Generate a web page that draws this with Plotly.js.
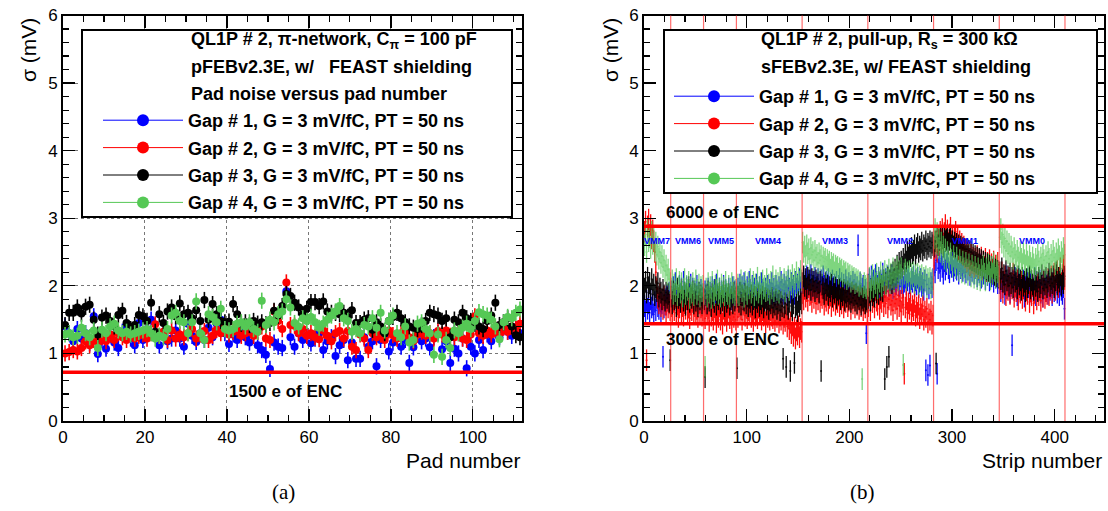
<!DOCTYPE html>
<html><head><meta charset="utf-8">
<script src="https://cdn.plot.ly/plotly-3.0.1.min.js"></script>
<style>html,body{margin:0;padding:0;background:#fff}#chart{width:1108px;height:511px}</style>
</head><body><div id="chart"></div>
<script>
// ---------- Panel (a): pad noise, 112 pads ----------
const padGap1 = [1.40,1.30,1.18,1.36,1.22,1.30,1.15,1.55,0.99,1.20,
1.07,1.28,1.16,1.08,1.32,1.38,1.22,1.12,1.45,1.20,
1.36,1.50,1.28,1.12,1.30,1.18,1.22,1.34,1.22,1.10,
1.44,1.26,1.17,1.30,1.20,1.38,1.24,1.44,1.50,1.30,
1.14,1.28,1.20,1.32,1.24,1.16,1.28,1.12,1.05,0.98,
0.77,1.16,1.10,1.08,1.92,1.24,1.10,1.30,1.20,1.26,
1.15,1.22,1.30,1.05,1.18,1.24,0.96,1.12,1.20,0.90,
1.16,0.92,0.92,1.24,1.10,1.18,0.81,1.20,1.28,1.03,
1.16,1.24,1.10,1.20,0.86,1.09,1.28,1.18,1.22,1.09,
1.24,1.30,1.06,1.18,0.86,1.07,1.00,1.22,0.78,1.10,
1.00,1.20,1.05,1.28,1.18,1.34,1.24,1.40,1.32,1.26,1.36,1.30];
const padGap2 = [1.00,1.02,1.05,1.03,1.08,1.18,1.12,1.20,1.16,1.24,
1.18,1.28,1.20,1.30,1.24,1.20,1.32,1.22,1.26,1.28,
1.22,1.30,1.43,1.26,1.32,1.20,1.34,1.22,1.28,1.24,
1.30,1.36,1.22,1.28,1.33,1.20,1.26,1.35,1.30,1.40,
1.28,1.32,1.34,1.26,1.30,1.38,1.26,1.32,1.40,1.22,
1.20,1.62,1.48,1.36,2.05,1.42,1.41,1.30,1.36,1.26,
1.30,1.24,1.21,1.34,1.26,1.18,1.30,1.33,1.22,1.33,
1.10,1.05,1.28,1.22,1.05,1.30,1.24,1.28,1.20,1.34,
1.27,1.22,1.30,1.33,1.24,1.18,1.28,1.32,1.26,1.30,
1.22,1.33,1.28,1.34,1.26,1.24,1.30,1.22,1.20,1.28,
1.55,1.30,1.26,1.34,1.28,1.36,1.30,1.38,1.32,1.40,1.36,1.44];
const padGap3 = [1.42,1.60,1.60,1.68,1.59,1.69,1.72,1.50,1.28,1.53,
1.56,1.48,1.40,1.57,1.63,1.45,1.36,1.42,1.57,1.55,
1.48,1.75,1.32,1.58,1.45,1.62,1.68,1.55,1.74,1.58,
1.60,1.52,1.64,1.48,1.79,1.50,1.73,1.58,1.48,1.46,
1.47,1.73,1.58,1.44,1.46,1.42,1.48,1.44,1.46,1.43,
1.45,1.63,1.56,1.70,1.88,1.85,1.75,1.68,1.58,1.66,
1.76,1.76,1.70,1.77,1.62,1.60,1.60,1.58,1.60,1.54,
1.64,1.45,1.45,1.50,1.52,1.35,1.46,1.40,1.30,1.48,
1.54,1.60,1.52,1.46,1.40,1.38,1.36,1.42,1.48,1.60,
1.58,1.56,1.48,1.52,1.24,1.50,1.46,1.60,1.52,1.48,
1.44,1.40,1.36,1.48,1.56,1.75,1.42,1.46,1.52,1.40,1.27,1.24];
const padGap4 = [1.28,1.30,1.24,1.26,1.38,1.30,1.24,1.34,1.08,1.35,
1.30,1.40,1.44,1.34,1.30,1.32,1.28,1.30,1.32,1.34,
1.36,1.30,1.22,1.26,1.24,1.36,1.56,1.60,1.48,1.46,
1.30,1.46,1.77,1.30,1.20,1.58,1.54,1.46,1.66,1.36,
1.34,1.36,1.44,1.46,1.40,1.46,1.36,1.32,1.78,1.42,
1.50,1.46,1.58,1.62,1.80,1.68,1.45,1.40,1.52,1.48,
1.54,1.46,1.38,1.44,1.50,1.56,1.62,1.70,1.52,1.48,
1.32,1.36,1.30,1.42,1.40,1.52,1.38,1.60,1.34,1.48,
1.56,1.30,1.24,1.40,1.16,1.20,1.44,1.46,1.36,1.30,
0.98,1.28,0.95,1.20,1.08,1.34,1.30,1.38,1.44,1.36,
1.48,1.61,1.58,1.56,1.50,1.40,1.21,1.46,1.54,1.52,1.60,1.65];
const padErr = 0.12;

// ---------- Panel (b): strip noise, strips 0..409 ----------
const stripGap1 = [1.70,1.62,1.78,1.66,1.74,1.60,1.80,1.68,1.72,1.58,1.76,1.64,1.82,1.70,1.66,1.78,1.62,1.74,0.95,1.68,1.80,1.72,1.86,1.78,1.90,1.84,
1.92,1.80,1.98,1.86,2.04,1.84,1.94,1.78,2.00,1.88,1.96,1.82,2.06,1.90,1.86,1.98,1.80,1.94,1.88,2.02,1.84,1.96,1.78,1.92,1.86,2.00,1.82,1.90,1.76,1.94,1.84,1.88,
1.80,1.92,1.74,1.88,1.96,1.82,1.90,1.78,1.98,1.86,1.94,1.80,2.02,1.88,1.84,1.96,1.78,1.92,1.86,2.00,1.82,1.94,1.88,1.76,1.96,1.84,1.90,1.80,1.98,1.86,1.92,1.84,
1.88,1.96,1.84,2.02,1.90,1.98,1.86,2.04,1.92,1.82,1.98,1.88,2.06,1.94,1.86,2.00,
1.90,1.96,1.84,2.02,1.92,1.88,1.98,1.86,2.04,1.94,1.90,1.82,1.96,1.88,2.00,1.86,
1.94,1.90,2.04,1.88,1.96,1.84,2.00,1.92,1.86,1.98,1.90,2.06,1.94,1.88,2.02,1.92,
1.98,1.86,2.08,1.96,1.90,2.04,1.94,2.00,1.88,2.06,1.96,2.02,1.92,2.10,1.98,2.04,
2.00,2.10,1.96,2.06,2.14,1.98,2.08,2.02,2.16,1.94,2.06,2.00,2.12,1.96,2.04,2.10,
1.92,2.02,2.08,1.98,2.14,2.00,1.94,2.06,2.02,2.10,1.96,2.04,1.90,2.08,1.98,2.02,
1.94,2.06,1.92,2.00,2.10,1.96,2.04,1.88,2.02,1.94,2.08,1.98,1.90,2.04,1.96,2.00,
1.86,2.06,1.94,2.02,1.90,1.98,2.60,1.92,2.04,1.88,1.96,2.00,1.84,1.94,1.30,1.90,
2.02,2.10,1.96,2.14,2.04,2.08,1.98,2.16,2.06,2.00,2.12,1.94,2.08,2.02,2.18,2.04,
1.98,2.10,2.06,2.14,2.00,2.08,2.04,2.16,1.96,2.10,2.06,2.02,2.12,2.08,2.00,2.14,
2.04,2.10,1.98,2.06,2.12,2.02,2.08,2.16,2.04,1.96,2.10,2.06,2.14,2.00,2.08,2.02,
2.12,1.98,2.06,2.10,2.00,2.04,1.94,2.08,0.75,2.02,0.68,1.96,0.82,2.04,1.98,2.10,
2.30,2.20,2.38,0.70,2.26,2.34,2.22,2.40,2.28,2.18,2.36,2.24,2.32,2.42,2.26,2.20,
2.34,2.28,2.38,2.22,2.30,2.40,2.24,2.32,2.18,2.36,2.26,2.30,2.22,2.34,2.28,2.20,
2.36,2.24,2.32,2.16,2.28,2.22,2.34,2.18,2.26,2.30,2.14,2.24,2.20,2.32,2.12,2.26,
2.18,2.28,2.10,2.22,2.16,2.26,2.08,2.20,2.14,2.24,2.06,2.18,2.12,2.22,2.04,2.16,
2.04,1.92,2.10,1.98,2.06,1.88,2.14,1.96,2.02,2.08,1.90,2.00,1.12,2.06,1.94,2.12,
1.98,1.86,2.04,2.10,1.92,2.00,1.96,2.08,1.84,2.02,1.94,2.10,1.98,1.88,2.06,1.92,
2.00,1.96,2.12,1.86,2.04,1.94,1.98,2.08,1.90,2.02,1.84,1.96,2.06,1.92,2.00,1.88,
2.10,1.94,1.98,1.86,2.04,1.92,1.96,2.08,1.90,2.00,1.86,2.02,1.94,1.88,1.98,1.66];
const stripGap2 = [2.80,2.95,0.90,2.88,2.98,2.75,2.90,2.70,2.82,2.66,2.50,2.20,1.96,1.82,1.74,1.88,1.70,1.80,1.66,1.84,1.72,1.62,1.78,1.68,1.74,1.64,
1.70,1.58,1.76,1.64,1.82,1.60,1.72,1.54,1.68,1.78,1.62,1.70,1.56,1.74,1.66,1.80,1.60,1.68,1.52,1.72,1.64,1.76,1.58,1.70,1.62,1.66,1.54,1.74,1.60,1.68,1.56,1.64,
1.62,1.52,1.70,1.58,1.66,1.48,1.72,1.56,1.64,1.50,1.68,1.58,1.46,1.62,1.54,1.70,1.50,1.60,1.44,1.66,1.56,1.62,1.48,1.58,1.68,1.52,1.60,1.46,1.64,1.54,1.58,1.50,
1.64,1.54,1.70,1.58,1.66,1.50,1.72,1.60,1.56,1.68,1.52,1.64,1.58,1.70,1.54,1.62,
1.48,1.66,1.56,1.60,1.52,1.68,1.58,1.62,1.50,1.64,1.56,1.60,1.46,1.62,1.54,1.58,
1.50,1.64,1.56,1.52,1.60,1.48,1.58,1.54,1.62,1.46,1.56,1.50,1.60,1.44,1.54,1.48,
1.58,1.40,1.52,1.36,1.46,1.30,1.42,1.26,1.38,1.22,1.34,1.28,1.40,1.24,1.36,1.32,
1.90,1.80,1.96,1.84,1.92,1.78,1.98,1.86,1.88,1.76,1.94,1.82,1.90,1.74,1.88,1.80,
1.92,1.76,1.86,1.82,1.90,1.72,1.84,1.78,1.88,1.74,1.82,1.86,1.70,1.84,1.78,1.88,
1.72,1.80,1.76,1.86,1.70,1.82,1.74,1.84,1.68,1.80,1.76,1.84,1.70,1.78,1.82,1.66,
1.80,1.74,1.84,1.68,1.78,1.72,1.82,1.66,1.76,1.70,1.80,1.64,1.74,1.68,1.78,1.62,
1.70,1.86,1.64,1.92,1.76,1.84,1.68,1.94,1.78,1.72,1.88,1.66,1.82,1.76,1.90,1.70,
1.84,1.74,1.92,1.68,1.80,1.86,1.72,1.78,1.64,1.84,1.74,1.80,1.66,1.86,1.70,1.78,
1.62,1.82,1.72,0.70,1.68,1.80,1.60,1.74,1.66,1.78,1.58,1.70,1.64,1.76,1.56,1.68,
1.60,1.72,1.52,1.66,1.58,1.70,1.50,1.62,1.54,1.66,1.46,1.58,1.50,1.62,1.44,1.56,
2.40,2.56,2.66,2.50,2.74,2.60,2.80,2.68,2.84,2.62,2.78,2.90,2.70,2.82,2.64,2.76,
2.86,2.66,2.74,2.58,2.70,2.80,2.62,2.72,2.54,2.66,2.50,2.62,2.46,2.58,2.42,2.54,
2.36,2.50,2.40,2.30,2.46,2.34,2.42,2.28,2.40,2.32,2.44,2.26,2.38,2.30,2.42,2.24,
2.36,2.28,2.40,2.22,2.34,2.26,2.38,2.20,2.32,2.24,2.36,2.18,2.30,2.22,2.34,2.16,
2.10,1.96,2.20,1.90,2.06,2.14,1.86,2.02,1.94,2.12,1.88,2.04,1.96,2.18,1.84,2.00,
1.92,2.08,1.80,1.98,1.90,2.06,1.82,1.96,2.02,1.78,1.94,1.88,2.04,1.76,1.92,1.86,
2.00,1.74,1.90,1.96,1.80,2.02,1.86,1.94,1.78,1.98,1.84,2.06,1.82,1.92,1.88,2.10,
1.86,1.96,2.14,1.90,2.02,2.18,1.94,2.08,2.22,1.98,2.12,2.26,2.04,2.16,2.30,2.10];
const stripGap3 = [1.96,2.06,1.90,2.12,1.98,2.04,1.88,2.10,1.94,2.02,1.86,1.98,1.92,2.04,1.84,1.96,1.90,1.80,1.94,1.86,1.78,1.90,1.82,1.88,1.76,0.90,
1.84,1.74,1.92,1.80,1.88,1.70,1.96,1.82,1.86,1.76,1.94,1.84,1.78,1.90,1.72,1.88,1.80,1.98,1.76,1.86,1.82,1.92,1.74,1.88,1.78,1.84,1.70,1.90,1.80,1.86,1.74,1.82,
1.80,0.65,1.86,1.74,1.92,1.78,1.84,1.70,1.88,1.82,1.76,1.94,1.72,1.86,1.80,1.90,1.74,1.84,1.78,1.92,1.70,1.86,1.76,1.82,1.88,1.72,1.80,1.84,1.74,1.90,1.78,1.82,
0.78,1.84,1.76,1.90,1.72,1.86,1.80,1.78,1.88,1.74,1.84,1.70,1.82,1.76,1.86,1.72,
1.80,1.84,1.68,1.82,1.76,1.86,1.70,1.80,1.74,1.84,1.68,1.78,1.82,1.72,1.80,1.66,
1.78,1.74,1.82,1.68,1.76,1.72,1.80,1.66,1.74,1.78,1.64,1.76,1.70,0.92,1.68,1.74,
0.80,1.72,1.66,1.76,0.74,1.70,1.64,1.74,0.86,1.68,1.72,1.62,1.76,1.70,1.80,1.74,
2.04,2.14,2.00,2.10,1.96,2.12,2.02,2.08,1.94,2.10,2.00,2.06,1.92,2.08,1.98,2.04,
1.90,2.06,0.74,2.02,1.96,1.88,2.04,1.94,2.00,1.86,1.98,1.92,2.02,1.84,1.96,1.90,
1.98,1.82,1.94,1.88,1.96,1.80,1.92,1.86,1.94,1.78,1.90,1.84,1.92,1.80,1.88,1.76,
1.90,1.82,1.86,1.78,1.88,1.74,1.84,1.80,1.86,1.72,1.82,1.78,1.84,1.74,1.80,1.76,
1.82,1.90,1.78,1.96,1.86,1.92,1.84,2.00,1.90,1.96,1.88,2.04,1.94,2.00,1.92,2.08,
0.62,2.04,0.80,2.12,0.95,2.08,2.16,2.04,2.20,2.10,2.24,2.14,2.30,2.20,2.34,2.26,
2.36,2.28,2.40,2.32,2.46,2.36,2.50,2.42,2.52,2.44,2.56,2.48,2.52,2.60,2.46,2.56,
2.62,2.50,2.58,2.54,2.64,2.52,2.60,2.56,2.66,2.54,2.62,2.58,2.66,2.56,2.64,2.60,
2.58,2.66,0.85,2.72,2.60,2.68,2.74,2.64,2.70,2.58,2.72,2.66,2.68,2.74,2.62,2.68,
2.72,2.60,2.66,2.58,2.64,2.56,2.62,2.52,2.60,2.50,2.58,2.48,2.56,2.46,2.54,2.44,
2.54,2.44,2.52,2.40,2.50,2.38,2.46,2.36,2.44,2.34,2.42,2.32,2.40,2.30,2.38,2.28,
2.36,2.26,2.34,2.24,2.32,2.22,2.30,2.20,2.28,2.18,2.26,2.16,2.24,2.14,2.22,2.12,
2.20,2.10,2.26,2.06,2.16,2.02,2.22,2.08,2.14,2.00,2.18,2.04,2.12,1.98,2.16,2.06,
2.10,1.96,2.14,2.02,2.08,1.94,2.12,2.00,2.06,1.92,2.10,1.98,2.04,2.14,1.96,2.08,
2.02,1.94,2.10,2.00,2.06,1.92,2.12,1.98,2.04,2.16,1.96,2.08,2.02,2.12,1.98,2.06,
2.18,2.00,2.10,2.04,2.14,1.98,2.08,2.20,2.02,2.12,2.06,2.16,2.00,2.10,2.04,2.14];
const stripGap4 = [2.60,2.76,2.50,2.82,2.66,2.72,2.56,2.80,2.62,2.70,2.52,2.64,2.46,2.58,2.40,2.50,2.34,2.44,2.28,2.38,2.22,2.30,2.16,2.24,2.10,2.04,
1.96,2.08,1.88,2.02,1.92,2.10,1.86,1.98,2.06,1.90,2.04,1.84,1.96,2.10,1.88,2.00,1.94,2.06,1.82,1.98,1.90,2.04,1.86,1.96,2.08,1.88,1.94,2.02,1.84,1.98,1.92,2.00,
1.88,0.80,1.96,1.84,2.04,1.90,1.98,1.82,2.06,1.92,1.86,2.00,1.94,2.08,1.88,1.96,1.84,2.02,1.90,1.98,1.86,2.06,1.92,1.88,2.00,1.84,1.96,2.04,1.90,1.98,1.86,1.94,
1.90,2.02,1.86,1.98,2.08,1.92,2.00,1.84,2.06,1.94,1.88,2.04,1.96,2.10,1.90,1.98,
2.06,1.86,2.02,1.94,2.12,1.90,1.98,2.04,1.88,2.08,1.96,2.00,1.92,2.10,1.94,2.02,
1.88,2.06,1.96,2.14,1.92,2.00,2.08,1.94,2.04,1.90,2.12,1.98,2.02,1.96,2.10,1.92,
2.06,2.00,2.14,1.94,2.08,2.02,2.16,1.98,2.10,2.04,2.20,2.00,2.12,2.06,2.22,2.08,
2.64,2.50,2.58,2.44,2.60,2.48,2.54,2.40,2.56,2.46,2.50,2.38,2.52,2.42,2.46,2.34,
2.48,2.38,2.44,2.30,2.42,2.36,2.40,2.28,2.38,2.32,2.36,2.24,2.34,2.28,2.32,2.20,
2.30,2.26,2.28,2.18,2.26,2.22,2.24,2.14,2.22,2.18,2.20,2.10,2.18,2.14,2.16,2.06,
2.14,2.10,2.12,2.04,2.10,2.06,2.08,2.00,2.06,2.02,0.62,1.98,2.04,2.00,1.96,2.02,
2.00,2.12,1.94,2.08,2.16,1.98,2.10,2.04,2.18,1.96,2.12,2.06,2.20,2.00,2.14,2.08,
2.22,2.02,2.16,2.10,2.24,2.04,2.18,2.12,2.26,2.06,2.20,2.14,2.28,2.08,2.22,2.16,
2.26,2.10,0.83,2.18,2.24,2.08,2.20,2.14,2.22,2.06,2.18,2.12,2.20,2.04,2.16,2.10,
2.18,2.02,2.14,2.08,2.16,2.00,2.12,2.06,2.14,1.98,2.10,2.04,2.12,1.96,2.08,2.02,
2.70,2.84,2.62,2.78,2.56,2.70,2.50,2.64,2.46,2.58,2.40,2.54,2.36,2.50,2.42,2.32,
2.48,2.38,2.28,2.44,2.34,2.26,2.42,2.30,2.22,2.38,2.28,2.20,2.36,2.26,2.18,2.34,
2.24,2.16,2.32,2.22,2.14,2.30,2.20,2.12,2.28,2.18,2.10,2.26,2.16,2.08,2.24,2.14,
2.30,2.18,2.08,2.26,2.16,2.32,2.20,2.10,2.28,2.18,2.34,2.22,2.12,2.30,2.20,2.14,
2.72,2.84,2.64,2.76,2.58,2.70,2.52,2.66,2.48,2.62,2.44,2.58,2.50,2.40,2.56,2.46,
2.36,2.52,2.42,2.34,2.50,2.40,2.32,2.48,2.38,2.30,2.46,2.36,2.28,2.44,2.34,2.26,
2.42,2.32,2.24,2.40,2.30,2.46,2.36,2.26,2.42,2.32,2.48,2.38,2.28,2.44,2.34,2.50,
2.40,2.30,2.46,2.36,2.52,2.42,2.32,2.48,2.38,2.54,2.44,2.34,2.50,2.40,2.56,2.46];
const stripErr = 0.16;

const vmmBoundaries = [26, 58, 90, 154, 218, 282, 346, 410];
const vmmLabels = ['VMM7','VMM6','VMM5','VMM4','VMM3','VMM2','VMM1','VMM0'];
const vmmLabelPos = [13, 43, 75, 121, 186, 249, 313, 378];

const gapNames = ['Gap # 1, G = 3 mV/fC, PT = 50 ns','Gap # 2, G = 3 mV/fC, PT = 50 ns',
                  'Gap # 3, G = 3 mV/fC, PT = 50 ns','Gap # 4, G = 3 mV/fC, PT = 50 ns'];
const titleA = ['QL1P # 2, π-network, C<sub>π</sub> = 100 pF','pFEBv2.3E, w/   FEAST shielding','Pad noise versus pad number'];
const titleB = ['QL1P # 2, pull-up, R<sub>s</sub> = 300 kΩ','sFEBv2.3E, w/ FEAST shielding'];
const encA = {level: 0.72, label: '1500 e of ENC'};
const encB = [{level: 2.88, label: '6000 e of ENC'}, {level: 1.44, label: '3000 e of ENC'}];

// ---------- styling ----------
const colors = ['#0000ff', '#ff0000', '#000000', '#55c855'];
const FONT = 'Liberation Sans, Arial, Helvetica, sans-serif';
const W = 1108, H = 511;
const px = v => v / W, py = v => (H - v) / H;

const padSeries = [padGap1, padGap2, padGap3, padGap4];
const stripSeries = [stripGap1, stripGap2, stripGap3, stripGap4];

const traces = [];
padSeries.forEach((ys, k) => {
  traces.push({
    type: 'scatter', mode: 'markers', xaxis: 'x', yaxis: 'y', showlegend: false,
    x: ys.map((_, i) => i + 0.5), y: ys,
    marker: {color: colors[k], size: 8},
    error_y: {type: 'constant', value: padErr, color: colors[k], thickness: 1.6, width: 0},
    hoverinfo: 'skip'
  });
});
stripSeries.forEach((ys, k) => {
  traces.push({
    type: 'scatter', mode: 'markers', xaxis: 'x2', yaxis: 'y2', showlegend: false,
    x: ys.map((_, i) => i + 0.5), y: ys,
    opacity: k === 3 ? 0.75 : 0.95,
    marker: {color: colors[k], size: 2},
    error_y: {type: 'constant', value: stripErr, color: colors[k], thickness: 1.3, width: 0},
    hoverinfo: 'skip'
  });
});
// legend entries
['legend', 'legend2'].forEach((lg, j) => {
  gapNames.forEach((nm, k) => {
    traces.push({
      type: 'scatter', mode: 'lines+markers', x: [null], y: [null],
      xaxis: j ? 'x2' : 'x', yaxis: j ? 'y2' : 'y',
      name: '<b>' + nm + '</b>', legend: lg, legendgroup: lg + k,
      line: {color: colors[k], width: 1}, marker: {color: colors[k], size: 12},
      hoverinfo: 'skip'
    });
  });
});

const axisCommon = {
  showline: true, linewidth: 2, linecolor: '#000', mirror: 'ticks',
  ticks: 'inside', ticklen: 12, tickwidth: 1.3, tickcolor: '#000',
  zeroline: false, tickfont: {family: FONT, size: 17, color: '#000'},
  fixedrange: true
};
const yDomain = [py(421), py(15.5)];

const shapes = [];
const annotations = [];

// ENC lines
shapes.push({type: 'line', xref: 'x domain', yref: 'y', x0: 0, x1: 1, y0: encA.level, y1: encA.level,
  line: {color: '#ff0000', width: 3.5}});
annotations.push({xref: 'x', yref: 'y', x: 40, y: encA.level - 0.28, xanchor: 'left', yanchor: 'middle',
  text: '<b>' + encA.label + '</b>', showarrow: false, font: {family: FONT, size: 17, color: '#000'}});
// VMM boundaries
vmmBoundaries.forEach(b => shapes.push({type: 'line', xref: 'x2', yref: 'y2 domain', x0: b, x1: b, y0: 0, y1: 1,
  line: {color: 'rgba(255,60,60,0.75)', width: 1.2}}));
encB.forEach((e, i) => {
  shapes.push({type: 'line', xref: 'x2 domain', yref: 'y2', x0: 0, x1: 1, y0: e.level, y1: e.level,
    line: {color: '#ff0000', width: 3.5}});
  annotations.push({xref: 'x2', yref: 'y2', x: 19, y: i === 0 ? e.level + 0.2 : e.level - 0.24,
    xanchor: 'left', yanchor: 'middle', text: '<b>' + e.label + '</b>', showarrow: false,
    font: {family: FONT, size: 17, color: '#000'}});
});
vmmLabels.forEach((t, i) => annotations.push({xref: 'x2', yref: 'y2', x: vmmLabelPos[i], y: 2.66,
  text: '<b>' + t + '</b>', showarrow: false, font: {family: FONT, size: 9, color: '#0000ff'}}));

// legend boxes
shapes.push({type: 'rect', xref: 'paper', yref: 'paper', x0: px(82), x1: px(512), y0: py(217), y1: py(30),
  fillcolor: '#fff', line: {color: '#000', width: 2}});
shapes.push({type: 'rect', xref: 'paper', yref: 'paper', x0: px(664), x1: px(1097), y0: py(193), y1: py(30),
  fillcolor: '#fff', line: {color: '#000', width: 2}});
titleA.forEach((t, i) => annotations.push({xref: 'paper', yref: 'paper', x: px(189), y: py(40 + 27 * i),
  xanchor: 'left', yanchor: 'middle', text: '<b>' + t + '</b>', showarrow: false,
  font: {family: FONT, size: 18, color: '#000'}}));
titleB.forEach((t, i) => annotations.push({xref: 'paper', yref: 'paper', x: px(759), y: py(40 + 27 * i),
  xanchor: 'left', yanchor: 'middle', text: '<b>' + t + '</b>', showarrow: false,
  font: {family: FONT, size: 18, color: '#000'}}));

// axis titles & captions
[[28, 'σ (mV)'], [610, 'σ (mV)']].forEach(([x, t]) => annotations.push({xref: 'paper', yref: 'paper',
  x: px(x), y: py(50), textangle: -90, text: t, showarrow: false, xanchor: 'center', yanchor: 'middle',
  font: {family: FONT, size: 21, color: '#000'}}));
[[522, 'Pad number'], [1104, 'Strip number']].forEach(([x, t]) => annotations.push({xref: 'paper', yref: 'paper',
  x: px(x), y: py(460), text: t, showarrow: false, xanchor: 'right', yanchor: 'middle',
  font: {family: FONT, size: 21, color: '#000'}}));
[[283, '(a)'], [862, '(b)']].forEach(([x, t]) => annotations.push({xref: 'paper', yref: 'paper',
  x: px(x), y: py(492), text: t, showarrow: false, xanchor: 'center', yanchor: 'middle',
  font: {family: 'Liberation Serif, Times New Roman, serif', size: 21, color: '#000'}}));

const legendCommon = {xanchor: 'left', yanchor: 'top', bgcolor: 'rgba(0,0,0,0)', borderwidth: 0,
  font: {family: FONT, size: 18, color: '#000'}, itemwidth: 80, traceorder: 'grouped', tracegroupgap: 1,
  itemclick: false, itemdoubleclick: false};

const layout = {
  width: W, height: H, margin: {l: 0, r: 0, t: 0, b: 0},
  paper_bgcolor: '#fff', plot_bgcolor: '#fff', showlegend: true,
  xaxis: Object.assign({}, axisCommon, {domain: [px(63), px(522)], range: [0, 112], anchor: 'y',
    tick0: 0, dtick: 20, showgrid: true, griddash: 'dot', gridcolor: '#777', gridwidth: 1,
    minor: {dtick: 5, ticks: 'inside', ticklen: 6, tickwidth: 1.2, tickcolor: '#000', showgrid: false}}),
  yaxis: Object.assign({}, axisCommon, {domain: yDomain, range: [0, 6], anchor: 'x',
    tick0: 0, dtick: 1, showgrid: true, griddash: 'dot', gridcolor: '#777', gridwidth: 1,
    minor: {dtick: 0.2, ticks: 'inside', ticklen: 6, tickwidth: 1.2, tickcolor: '#000', showgrid: false}}),
  xaxis2: Object.assign({}, axisCommon, {domain: [px(644), px(1104)], range: [0, 448], anchor: 'y2',
    tick0: 0, dtick: 100, showgrid: false,
    minor: {dtick: 20, ticks: 'inside', ticklen: 6, tickwidth: 1.2, tickcolor: '#000', showgrid: false}}),
  yaxis2: Object.assign({}, axisCommon, {domain: yDomain, range: [0, 6], anchor: 'x2',
    tick0: 0, dtick: 1, showgrid: false,
    minor: {dtick: 0.2, ticks: 'inside', ticklen: 6, tickwidth: 1.2, tickcolor: '#000', showgrid: false}}),
  legend: Object.assign({}, legendCommon, {x: px(98), y: py(102)}),
  legend2: Object.assign({}, legendCommon, {x: px(669), y: py(78)}),
  shapes: shapes, annotations: annotations
};

Plotly.newPlot('chart', traces, layout, {displayModeBar: false, staticPlot: true});
</script>
</body></html>
